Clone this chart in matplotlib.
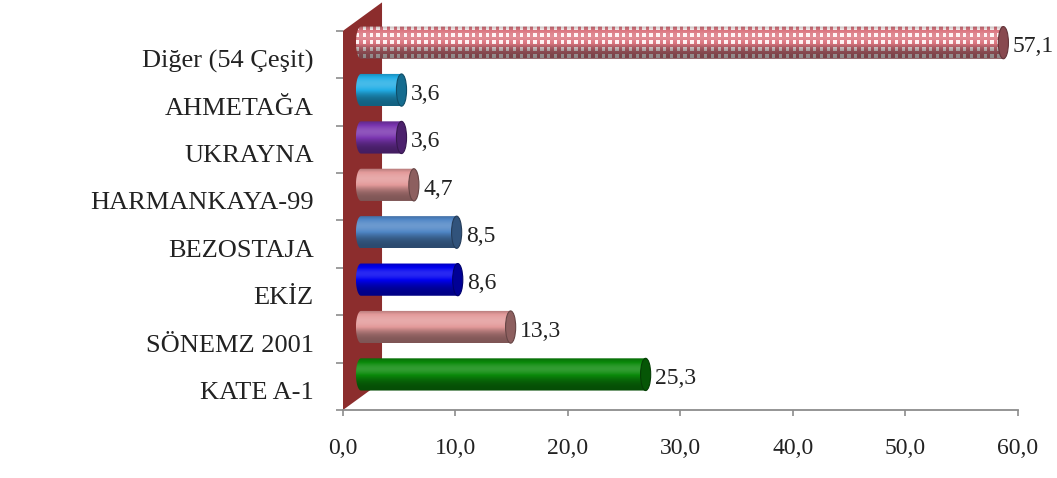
import numpy as np
import matplotlib
matplotlib.use("Agg")
import matplotlib.pyplot as plt
from matplotlib.patches import Polygon, Ellipse, PathPatch
from matplotlib.path import Path
from matplotlib.transforms import ScaledTranslation

# varieties, bottom to top as drawn
varieties = ["KATE A-1", "SÖNEMZ 2001", "EKİZ", "BEZOSTAJA",
             "HARMANKAYA-99", "UKRAYNA", "AHMETAĞA", "Diğer (54 Çeşit)"]
shares = [25.3, 13.3, 8.6, 8.5, 4.7, 3.6, 3.6, 57.1]
bar_colors = ["#0a8a0a", "#e39a9a", "#0000f0", "#4f86c6",
              "#e39a9a", "#7a35b0", "#22aee6", "#db7680"]
checkered = [False, False, False, False, False, False, False, True]

xticks = [0, 10, 20, 30, 40, 50, 60]
xtick_labels = ["0,0", "10,0", "20,0", "30,0", "40,0", "50,0", "60,0"]

FONT = "Liberation Serif"
TXT = "#222222"
GREY = "#8c8c8c"
WALL = "#8c2d2d"

# 3-D look: depth shift of the bars and of the side wall, in data units
DX, DY = 1.6, 0.25
WALL_DX, WALL_DY = 3.47, 0.6
BAR_H = 0.68
CAP_W = 0.45


def shade_profile(n):
    t = np.linspace(0, 1, n)
    return 0.55 + 0.65 * np.exp(-((t - 0.32) / 0.32) ** 2)


def apply_shade(rgb, f):
    rgb = np.asarray(rgb, dtype=float)
    f = f[..., None]
    dark = rgb * np.minimum(f, 1.0)
    light = dark + (1.0 - dark) * np.clip(f - 1.0, 0, None) * 0.8
    return np.clip(light, 0, 1)


def body_path(x0, x1, yc, h, ew):
    # flat top/bottom, rounded left end (half ellipse)
    a = np.linspace(np.pi / 2, 3 * np.pi / 2, 40)
    left = np.column_stack([x0 + ew * np.cos(a), yc + h / 2 * np.sin(a)])
    verts = np.vstack([[x1, yc + h / 2], left, [x1, yc - h / 2], [x1, yc + h / 2]])
    codes = [Path.MOVETO] + [Path.LINETO] * (len(verts) - 2) + [Path.CLOSEPOLY]
    return Path(verts, codes)


fig = plt.figure(figsize=(10.57, 4.78), dpi=100)
ax = fig.add_axes([0.3245, 0.1423, 0.6386, 0.8577])

# side wall
ymin, ymax = -0.5, 7.5
wall = Polygon([(0, ymin), (WALL_DX, ymin + WALL_DY), (WALL_DX, ymax + WALL_DY),
                (0, ymax)], closed=True, facecolor=WALL, edgecolor="none", zorder=1)
ax.add_patch(wall)

for i, (val, col, chk) in enumerate(zip(shares, bar_colors, checkered)):
    yc = i + DY
    x0, x1 = DX, val + DX
    base = np.array(matplotlib.colors.to_rgb(col))
    nrows = 64
    f = shade_profile(nrows)
    if chk:
        cell = 3.4  # px
        ncols = int(round((x1 - x0 + CAP_W) * 11.25 / cell))
        rr = (np.arange(nrows) * 32 / nrows / cell).astype(int) % 2
        cc = np.arange(ncols) % 2
        mask = (rr[:, None] == 0) & (cc[None, :] == 0)
        img = np.where(mask[..., None], np.array([1.0, 0.95, 0.95]), base)
        img = apply_shade(img, np.repeat(f[:, None], ncols, axis=1))
        interp = "nearest"
    else:
        img = apply_shade(np.tile(base, (nrows, 1)), f)[:, None, :]
        interp = "bilinear"
    im = ax.imshow(img, extent=(x0 - CAP_W, x1, yc - BAR_H / 2, yc + BAR_H / 2),
                   aspect="auto", interpolation=interp, zorder=3)
    clip = PathPatch(body_path(x0, x1, yc, BAR_H, CAP_W), transform=ax.transData,
                     facecolor="none", edgecolor="none")
    ax.add_patch(clip)
    im.set_clip_path(clip)

    cap = Ellipse((x1, yc), 2 * CAP_W, BAR_H, facecolor=base * 0.62,
                  edgecolor=base * 0.45, linewidth=0.8, zorder=4)
    ax.add_patch(cap)

    ax.annotate(f"{val:.1f}".replace(".", ","), xy=(x1 + CAP_W, yc),
                xytext=(3, -3), textcoords="offset points", ha="left", va="center",
                fontsize=17, family=FONT, color=TXT, zorder=5)

ax.set_xlim(0, 60)
ax.set_ylim(-0.5, 8.15)

for side in ["top", "right", "left"]:
    ax.spines[side].set_visible(False)
ax.spines["bottom"].set_color(GREY)
ax.spines["bottom"].set_linewidth(1.3)
ax.spines["bottom"].set_bounds(0, 60)

ax.set_xticks(xticks)
ax.set_xticklabels(xtick_labels, fontsize=17, family=FONT, color=TXT)
ax.tick_params(axis="x", length=4, width=1.2, color=GREY, pad=16)

ax.set_yticks(range(len(varieties)))
ax.set_yticklabels(varieties, fontsize=19, family=FONT, color=TXT)
ax.set_yticks(np.arange(-0.5, 8.0, 1.0), minor=True)
ax.tick_params(axis="y", which="major", length=0, pad=21)
ax.tick_params(axis="y", which="minor", length=5, width=1.2, color=GREY)

# category names sit a little below the category centre
shift = ScaledTranslation(0, -3 / 72, fig.dpi_scale_trans)
for lab in ax.get_yticklabels():
    lab.set_transform(lab.get_transform() + shift)

fig.savefig("out.png", dpi=100)
